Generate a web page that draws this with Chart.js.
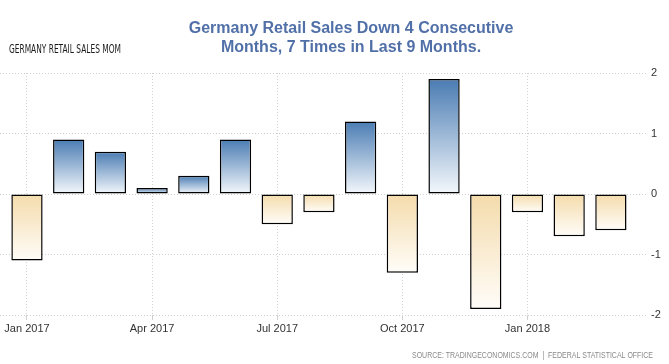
<!DOCTYPE html>
<html>
<head>
<meta charset="utf-8">
<script src="https://cdn.jsdelivr.net/npm/chart.js@4.4.1/dist/chart.umd.min.js"></script>
<style>
    body { margin: 0; background: #ffffff; }
    #wrap { width: 669px; height: 364px; }
</style>
</head>
<body>
<div id="wrap"><canvas id="salesChart" width="669" height="364"></canvas></div>
<script>
const months = [
    "Jan 2017", "Feb 2017", "Mar 2017", "Apr 2017", "May 2017", "Jun 2017",
    "Jul 2017", "Aug 2017", "Sep 2017", "Oct 2017", "Nov 2017", "Dec 2017",
    "Jan 2018", "Feb 2018", "Mar 2018"
];
const salesMom = [-1.1, 0.9, 0.7, 0.1, 0.3, 0.9, -0.5, -0.3, 1.2, -1.3, 1.9, -1.9, -0.3, -0.7, -0.6];
const yTicks = [-2, -1, 0, 1, 2];
const titleLines = ["Germany Retail Sales Down 4 Consecutive", "Months, 7 Times in Last 9 Months."];
const seriesName = "GERMANY RETAIL SALES MOM";
const sourceText = "SOURCE: TRADINGECONOMICS.COM  |  FEDERAL STATISTICAL OFFICE";

document.addEventListener("DOMContentLoaded", initializeChart);

function barFill(ctx){
    if(ctx.type !== "data") return "#cccccc";
    const chart = ctx.chart;
    if(!chart.chartArea) return "#cccccc";
    const y = chart.scales.y;
    const v = ctx.raw.y;
    const p0 = y.getPixelForValue(0);
    const p1 = y.getPixelForValue(v);
    const g = chart.ctx.createLinearGradient(0, Math.min(p0, p1), 0, Math.max(p0, p1));
    if(v >= 0){
        g.addColorStop(0, "#4a7cb3");
        g.addColorStop(1, "#f4f8fc");
    } else {
        g.addColorStop(0, "#f4dbab");
        g.addColorStop(1, "#fffdf9");
    }
    return g;
}

const textPlugin = {
    id: "texts",
    afterDraw(chart){
        const c = chart.ctx;
        c.save();
        c.fillStyle = "#5170a8";
        c.font = "bold 16px 'Liberation Sans', Arial, sans-serif";
        c.textAlign = "center";
        c.textBaseline = "middle";
        c.fillText(titleLines[0], 351, 29);
        c.fillText(titleLines[1], 351, 48);

        c.fillStyle = "#1a1a1a";
        c.font = "12px 'DejaVu Sans Condensed', 'Liberation Sans', sans-serif";
        c.textAlign = "left";
        c.fillText(seriesName, 9, 50, 112);

        c.fillStyle = "#8a8a8a";
        c.font = "9px 'Liberation Sans', Arial, sans-serif";
        c.fillText(sourceText, 412, 356, 241);
        c.restore();
    }
};

function initializeChart(){
    const el = document.getElementById("salesChart");
    new Chart(el, {
        type: "bar",
        data: {
            datasets: [{
                label: seriesName,
                data: months.map((m, i) => ({x: i, y: salesMom[i]})),
                backgroundColor: barFill,
                borderColor: "#000000",
                borderWidth: 1.5,
                borderSkipped: false,
                barPercentage: 0.75,
                categoryPercentage: 1
            }]
        },
        options: {
            responsive: false,
            animation: false,
            layout: { padding: { top: 73, left: 0, right: 0, bottom: 0 } },
            plugins: {
                legend: { display: false },
                tooltip: { enabled: false },
                title: { display: false }
            },
            scales: {
                x: {
                    type: "linear",
                    offset: false,
                    min: -0.647,
                    max: 14.89,
                    afterFit: s => { s.height = 49; },
                    grid: {
                        offset: false,
                        color: "#d0d0d0",
                        tickLength: 5,
                        lineWidth: 1
                    },
                    border: { display: false, dash: [1, 2] },
                    ticks: {
                        stepSize: 3,
                        includeBounds: false,
                        autoSkip: false,
                        maxRotation: 0,
                        padding: 2,
                        color: "#333333",
                        font: { family: "'Liberation Sans', Arial, sans-serif", size: 11 },
                        callback: v => months[v] || ""
                    }
                },
                y: {
                    position: "right",
                    min: yTicks[0],
                    max: yTicks[yTicks.length - 1],
                    afterFit: s => { s.width = 21; },
                    grid: {
                        color: "#d0d0d0",
                        drawTicks: false
                    },
                    border: { display: false, dash: [1, 2] },
                    ticks: {
                        stepSize: 1,
                        padding: 3,
                        crossAlign: "near",
                        color: "#333333",
                        font: { family: "'Liberation Sans', Arial, sans-serif", size: 11 }
                    }
                }
            }
        },
        plugins: [textPlugin]
    });
}
</script>
</body>
</html>
